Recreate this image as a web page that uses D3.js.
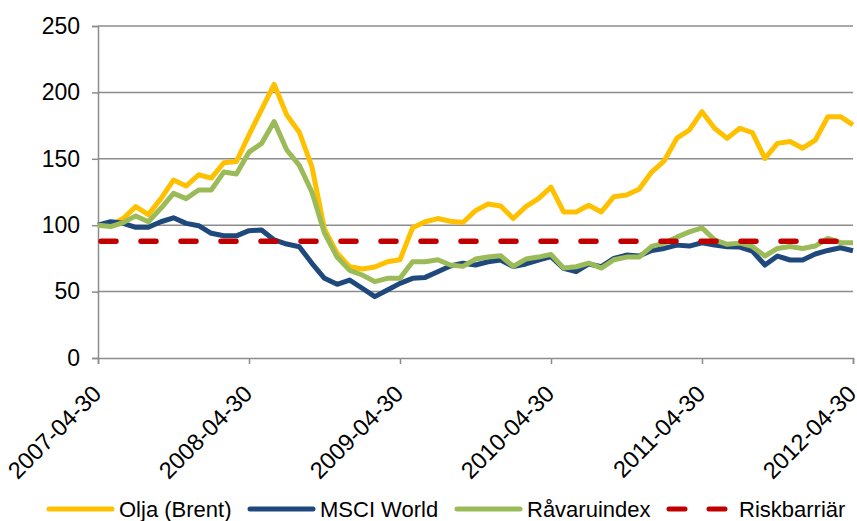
<!DOCTYPE html>
<html>
<head>
<meta charset="utf-8">
<script src="https://cdn.jsdelivr.net/npm/d3@7"></script>
<style>
  body { margin: 0; background: #fff; }
  text { font-family: "Liberation Sans", Arial, sans-serif; fill: #000; }
</style>
</head>
<body>
<div id="chart"></div>
<script>
// monthly values, 2007-04-30 .. 2012-04-30
const olja = [100, 100, 105, 114, 108, 120, 134, 129.5, 138, 135.5, 147, 148,
  168, 187, 206, 183, 170, 144, 97, 79, 68.7, 67, 68.5, 72.5,
  74, 98, 102.6, 105, 103, 102, 111, 116, 114.5, 105, 114, 120,
  128.7, 110, 110, 115, 110, 121.5, 122.7, 127, 140, 148.5, 165.5, 171.7,
  185.5, 173, 165.4, 173, 169.7, 150.3, 161.6, 163, 158, 164, 181.7, 181.7, 175.5];
const msci = [100, 102.6, 101.4, 98.4, 98.4, 102.6, 105.6, 101.4, 99.6, 93.9, 92, 92,
  95.9, 96.4, 88.9, 85.8, 83.8, 71.3, 60, 55.5, 58.7, 52.5, 46.2, 51.2,
  56.2, 60, 60.7, 65, 69.3, 71.3, 70, 72.5, 73.8, 68.8, 70.8, 73.8,
  76.3, 67.5, 65, 70.8, 68.8, 75, 77.5, 76.8, 81, 82.5, 85, 84.3,
  86.8, 85, 83.8, 83.5, 80.5, 70, 76.8, 73.8, 73.8, 78.3, 81, 83, 80.8];
const ravaru = [100, 99, 102, 107, 102.6, 112.7, 124, 120, 126.5, 126.5, 140, 138.5,
  155, 161.6, 178, 156.6, 145, 125, 94, 76, 66, 62.5, 57.5, 60,
  60, 72.5, 72.5, 74, 70, 69, 74.5, 76, 77, 69, 74.5, 76,
  78, 67.7, 68.7, 71.5, 67.7, 74, 76, 76, 84, 86.5, 91, 95,
  98, 89, 85.6, 86.5, 84, 76.8, 82.5, 84, 82.5, 84.3, 90, 86.8, 86.8];
const riskbarriar = 88;

const startDate = new Date(2007, 3, 30);
const dates = olja.map((d, i) => d3.timeMonth.offset(startDate, i));
const tickDates = d3.range(0, 61, 12).map(i => dates[i]);
const yTicks = [0, 50, 100, 150, 200, 250];

const seriesNames = ["Olja (Brent)", "MSCI World", "Råvaruindex", "Riskbarriär"];
const series = [
  {name: seriesNames[0], values: olja, color: "#FFC000"},
  {name: seriesNames[1], values: msci, color: "#1F497D"},
  {name: seriesNames[2], values: ravaru, color: "#9BBB59"}
];

const W = 857, H = 521;
const margin = {top: 26, right: 4, bottom: 163, left: 98};
const width = W - margin.left - margin.right;
const height = H - margin.top - margin.bottom;

const svg = d3.select("#chart").append("svg")
  .attr("width", W)
  .attr("height", H);
const g = svg.append("g")
  .attr("transform", "translate(" + margin.left + "," + margin.top + ")");

// scales
const x = d3.scalePoint()
  .domain(d3.range(dates.length))
  .range([0, width]);
const y = d3.scaleLinear()
  .domain([0, 250])
  .range([height, 0]);

// gridlines
g.selectAll(".grid")
  .data(yTicks.filter(d => d > 0))
  .enter().append("line")
  .attr("x1", 0)
  .attr("x2", width)
  .attr("y1", d => y(d))
  .attr("y2", d => y(d))
  .attr("stroke", "#8c8c8c")
  .attr("stroke-width", 1.5);

// y axis
const yAxis = g.append("g")
  .call(d3.axisLeft(y).tickValues(yTicks).tickSize(6).tickPadding(12));
yAxis.select(".domain").attr("stroke", "#8c8c8c").attr("stroke-width", 1.5);
yAxis.selectAll(".tick line").attr("stroke", "#8c8c8c").attr("stroke-width", 1.5);
yAxis.selectAll(".tick text")
  .style("font-size", "23px")
  .style("font-family", "Liberation Sans, Arial, sans-serif")
  .attr("fill", "#000");

// x axis
const xTickIdx = tickDates.map(t => dates.indexOf(t));
const xAxis = g.append("g")
  .attr("transform", "translate(0," + height + ")")
  .call(d3.axisBottom(x).tickValues(xTickIdx).tickSize(6)
    .tickFormat(i => d3.timeFormat("%Y-%m-%d")(dates[i])));
xAxis.select(".domain").attr("stroke", "#8c8c8c").attr("stroke-width", 1.5);
xAxis.selectAll(".tick line").attr("stroke", "#8c8c8c").attr("stroke-width", 1.5);
xAxis.selectAll(".tick text")
  .style("font-size", "23.5px")
  .style("font-family", "Liberation Sans, Arial, sans-serif")
  .attr("fill", "#000")
  .attr("text-anchor", "end")
  .attr("dy", "0.35em")
  .attr("transform", "translate(-8,25) rotate(-45)");

// lines
const line = d3.line()
  .x((d, i) => x(i))
  .y(d => y(d));

g.selectAll(".series")
  .data(series)
  .enter().append("path")
  .attr("class", "series")
  .attr("d", d => line(d.values))
  .attr("fill", "none")
  .attr("stroke", d => d.color)
  .attr("stroke-width", 5)
  .attr("stroke-linejoin", "round");

g.append("line")
  .attr("x1", 0)
  .attr("x2", width)
  .attr("y1", y(riskbarriar))
  .attr("y2", y(riskbarriar))
  .attr("stroke", "#C00000")
  .attr("stroke-width", 5.5)
  .attr("stroke-linecap", "round")
  .attr("stroke-dasharray", "15,25")
  .attr("transform", "translate(3,0)");

// legend
const legendItems = [
  {name: seriesNames[0], color: "#FFC000", x: 49},
  {name: seriesNames[1], color: "#1F497D", x: 250},
  {name: seriesNames[2], color: "#9BBB59", x: 457},
  {name: seriesNames[3], color: "#C00000", x: 669, dashed: true}
];
const legend = svg.append("g").attr("transform", "translate(0,509)");
legendItems.forEach(function(d) {
  if (d.dashed) {
    legend.append("line")
      .attr("x1", d.x).attr("x2", d.x + 60)
      .attr("y1", 0).attr("y2", 0)
      .attr("stroke", d.color)
      .attr("stroke-width", 5)
      .attr("stroke-linecap", "round")
      .attr("stroke-dasharray", "16,24");
  } else {
    legend.append("line")
      .attr("x1", d.x).attr("x2", d.x + 63)
      .attr("y1", 0).attr("y2", 0)
      .attr("stroke", d.color)
      .attr("stroke-width", 5)
      .attr("stroke-linecap", "round");
  }
  legend.append("text")
    .attr("x", d.x + 70)
    .attr("y", 0)
    .attr("dy", "0.35em")
    .style("font-size", "22px")
    .text(d.name);
});
</script>
</body>
</html>
